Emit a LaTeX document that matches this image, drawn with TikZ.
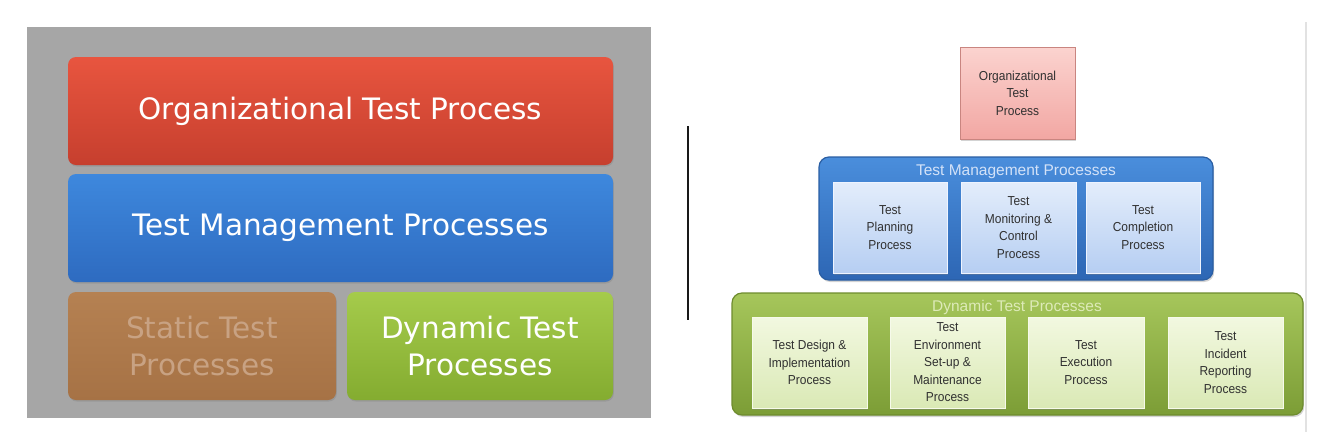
\documentclass[tikz,border=0pt]{standalone}
\usepackage{fontspec}
\usetikzlibrary{shadows}
\newfontfamily\leftfont{DejaVu Sans}
\newfontfamily\rightfont[FakeStretch=0.92]{Liberation Sans}
\newfontfamily\titlefont{Liberation Sans}
\definecolor{bggray}{HTML}{A6A6A6}
\definecolor{redtop}{HTML}{E8553F}
\definecolor{redbot}{HTML}{C63F2E}
\definecolor{bluetop}{HTML}{3E88DD}
\definecolor{bluebot}{HTML}{2E6BC0}
\definecolor{browntop}{HTML}{B58152}
\definecolor{brownbot}{HTML}{A67245}
\definecolor{browntext}{HTML}{C8A283}
\definecolor{greentop}{HTML}{A5CB4B}
\definecolor{greenbot}{HTML}{84AC30}
\definecolor{orgtop}{HTML}{FBD3CF}
\definecolor{orgbot}{HTML}{F2A7A3}
\definecolor{orgborder}{HTML}{C98580}
\definecolor{bctop}{HTML}{4A8EDC}
\definecolor{bcbot}{HTML}{2D66B4}
\definecolor{bcborder}{HTML}{2A5EA3}
\definecolor{bitop}{HTML}{E3EDFB}
\definecolor{bibot}{HTML}{B6CEF2}
\definecolor{biborder}{HTML}{EEF4FF}
\definecolor{btitle}{HTML}{D3E2F8}
\definecolor{gctop}{HTML}{A6C65B}
\definecolor{gcbot}{HTML}{7C9D36}
\definecolor{gcborder}{HTML}{6E8C2E}
\definecolor{gitop}{HTML}{F2F8E0}
\definecolor{gibot}{HTML}{DAE9B5}
\definecolor{giborder}{HTML}{F6FAEA}
\definecolor{gtitle}{HTML}{DDEAB8}
\definecolor{innertext}{HTML}{303030}
\definecolor{rightline}{HTML}{E2E2E2}
\tikzset{
  bigbox/.style={rounded corners=8pt, inner sep=0pt, outer sep=0pt,
    align=center, text=white,
    font=\leftfont\fontsize{29.5}{37}\selectfont,
    drop shadow={shadow xshift=0.8pt, shadow yshift=-1.5pt, opacity=0.35}},
  container/.style={rounded corners=10pt, inner sep=0pt, outer sep=0pt, line width=1.2pt,
    drop shadow={shadow xshift=1.2pt, shadow yshift=-2pt, opacity=0.35}},
  innerbox/.style={inner sep=0pt, outer sep=0pt, line width=1pt, align=center,
    text=innertext, font=\rightfont\fontsize{13}{17.5}\selectfont,
    minimum width=115pt, minimum height=91pt,
    drop shadow={shadow xshift=1pt, shadow yshift=-1.5pt, opacity=0.35}},
  titletext/.style={inner sep=0pt, font=\titlefont\fontsize{15.5}{18}\selectfont}
}
\begin{document}
\begin{tikzpicture}[x=1pt,y=-1pt]
\useasboundingbox (0,0) rectangle (1335,437);
% left panel
\fill[bggray] (27,27) rectangle (651,418);
\node[bigbox, top color=redtop, bottom color=redbot, minimum width=545pt, minimum height=108pt]
  (org) at (340.5,111) {Organizational Test Process};
\node[bigbox, top color=bluetop, bottom color=bluebot, minimum width=545pt, minimum height=108pt]
  (mgmt) at (340.5,228) {Test Management Processes};
\node[bigbox, top color=browntop, bottom color=brownbot, text=browntext, minimum width=268pt, minimum height=108pt]
  (static) at (202,346) {Static Test\\Processes};
\node[bigbox, top color=greentop, bottom color=greenbot, minimum width=266pt, minimum height=108pt]
  (dynamic) at (480,346) {Dynamic Test\\Processes};
% separator
\coordinate (sepa) at (688,126);
\coordinate (sepb) at (688,320);
\draw[line width=2pt, black!90] (sepa) -- (sepb);
\coordinate (rla) at (1306,22);
\coordinate (rlb) at (1306,432);
\draw[line width=2pt, rightline] (rla) -- (rlb);
% right panel
\node[innerbox, draw=orgborder, top color=orgtop, bottom color=orgbot, minimum width=115pt, minimum height=92pt]
  (rorg) at (1017.5,93) {Organizational\\Test\\Process};
\node[container, draw=bcborder, top color=bctop, bottom color=bcbot, minimum width=394pt, minimum height=123pt]
  (bc) at (1016,218.5) {};
\node[titletext, text=btitle] (bctitle) at (1016,172) {Test Management Processes};
\node[innerbox, draw=biborder, top color=bitop, bottom color=bibot, minimum width=114pt] (tp) at (890,227.5) {Test\\Planning\\Process};
\node[innerbox, draw=biborder, top color=bitop, bottom color=bibot] (tmc) at (1018.5,227.5) {Test\\Monitoring \&\\Control\\Process};
\node[innerbox, draw=biborder, top color=bitop, bottom color=bibot, minimum width=114pt] (tc) at (1143,227.5) {Test\\Completion\\Process};
\node[container, draw=gcborder, top color=gctop, bottom color=gcbot, minimum width=571pt, minimum height=122pt]
  (gc) at (1017.5,354) {};
\node[titletext, text=gtitle] (gctitle) at (1017,307) {Dynamic Test Processes};
\node[innerbox, draw=giborder, top color=gitop, bottom color=gibot] (tdi) at (809.5,362.5) {Test Design \&\\Implementation\\Process};
\node[innerbox, draw=giborder, top color=gitop, bottom color=gibot] (tes) at (947.5,362.5) {Test\\Environment\\Set-up \&\\Maintenance\\Process};
\node[innerbox, draw=giborder, top color=gitop, bottom color=gibot, minimum width=116pt] (tex) at (1086,362.5) {Test\\Execution\\Process};
\node[innerbox, draw=giborder, top color=gitop, bottom color=gibot] (tir) at (1225.5,362.5) {Test\\Incident\\Reporting\\Process};
\end{tikzpicture}
\end{document}
